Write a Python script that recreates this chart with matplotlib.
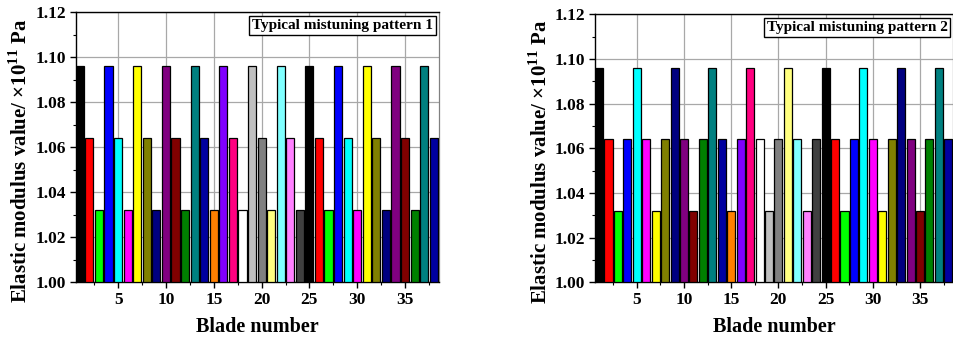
"""Elastic modulus of each blade for two typical mistuning patterns."""

import matplotlib
matplotlib.use('Agg')
import matplotlib.pyplot as plt
from matplotlib.ticker import MultipleLocator, FormatStrFormatter

blades = list(range(1, 39))

# Origin default colour cycle (24 colours, repeated)
origin_colors = [
    '#000000', '#FF0000', '#00FF00', '#0000FF', '#00FFFF', '#FF00FF',
    '#FFFF00', '#808000', '#000080', '#800080', '#800000', '#008000',
    '#008080', '#0000A0', '#FF8000', '#8000FF', '#FF0080', '#FFFFFF',
    '#C0C0C0', '#808080', '#FFFF80', '#80FFFF', '#FF80FF', '#404040',
]

pattern1 = [
    1.096, 1.064, 1.032, 1.096, 1.064, 1.032, 1.096, 1.064, 1.032, 1.096,
    1.064, 1.032, 1.096, 1.064, 1.032, 1.096, 1.064, 1.032, 1.096, 1.064,
    1.032, 1.096, 1.064, 1.032, 1.096, 1.064, 1.032, 1.096, 1.064, 1.032,
    1.096, 1.064, 1.032, 1.096, 1.064, 1.032, 1.096, 1.064,
]

pattern2 = [
    1.096, 1.064, 1.032, 1.064, 1.096, 1.064, 1.032, 1.064, 1.096, 1.064,
    1.032, 1.064, 1.096, 1.064, 1.032, 1.064, 1.096, 1.064, 1.032, 1.064,
    1.096, 1.064, 1.032, 1.064, 1.096, 1.064, 1.032, 1.064, 1.096, 1.064,
    1.032, 1.064, 1.096, 1.064, 1.032, 1.064, 1.096, 1.064,
]

titles = ['Typical mistuning pattern 1', 'Typical mistuning pattern 2']

plt.rcParams['font.family'] = ['Liberation Serif', 'DejaVu Serif']
plt.rcParams['font.weight'] = 'bold'
plt.rcParams['mathtext.fontset'] = 'custom'
plt.rcParams['mathtext.rm'] = 'Liberation Serif:bold'
plt.rcParams['mathtext.bf'] = 'Liberation Serif:bold'


def draw_panel(ax, values, title):
    colors = [origin_colors[i % len(origin_colors)] for i in range(len(values))]
    ax.bar(blades, [v - 1.0 for v in values], bottom=1.0, width=0.85,
           color=colors, edgecolor='black', linewidth=0.9, zorder=3)

    ax.set_xlim(0.57, 38.5)
    ax.set_ylim(1.0, 1.12)
    ax.xaxis.set_major_locator(MultipleLocator(5))
    ax.xaxis.set_minor_locator(MultipleLocator(2.5))
    ax.yaxis.set_major_locator(MultipleLocator(0.02))
    ax.yaxis.set_minor_locator(MultipleLocator(0.01))
    ax.yaxis.set_major_formatter(FormatStrFormatter('%.2f'))
    ax.set_xticks([5, 10, 15, 20, 25, 30, 35])

    ax.grid(True, which='major', color='#a8a8a8', linewidth=0.9, zorder=0)
    ax.tick_params(which='major', direction='out', length=4, width=1,
                   labelsize=12.5, pad=3)
    ax.tick_params(which='minor', direction='out', length=2.5, width=0.8)
    for lab in ax.get_xticklabels() + ax.get_yticklabels():
        lab.set_fontweight('bold')

    for side in ['left', 'bottom', 'top']:
        ax.spines[side].set_linewidth(1.0)
        ax.spines[side].set_color('black')
    ax.spines['right'].set_color('#808080')
    ax.spines['right'].set_linewidth(0.9)

    ax.set_xlabel('Blade number', fontsize=14.5, fontweight='bold', labelpad=6)
    ax.set_ylabel(r'Elastic modulus value/ $\times$10$^{11}$ Pa',
                  fontsize=15, fontweight='bold')
    ax.yaxis.set_label_coords(-0.12, 0.45)

    ax.text(0.985, 0.975, title, transform=ax.transAxes, ha='right', va='top',
            fontsize=11, fontweight='bold', zorder=5,
            bbox=dict(boxstyle='square,pad=0.18', facecolor='white',
                      edgecolor='black', linewidth=1.0))


fig = plt.figure(figsize=(9.54, 3.39), dpi=100)
ax1 = fig.add_axes([0.0794, 0.1667, 0.3803, 0.7970])
ax2 = fig.add_axes([0.6237, 0.1667, 0.3753, 0.7911])

draw_panel(ax1, pattern1, titles[0])
draw_panel(ax2, pattern2, titles[1])

fig.savefig('out.png', dpi=100)
plt.close(fig)
